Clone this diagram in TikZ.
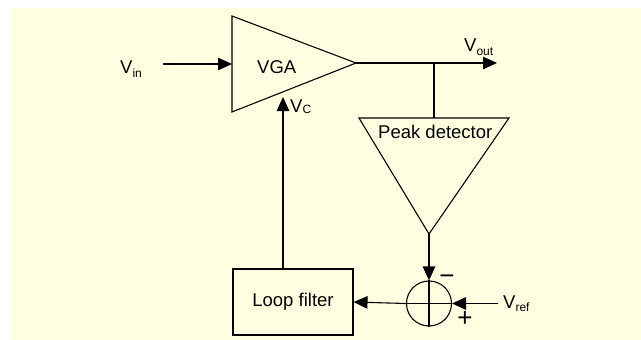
\documentclass[tikz,border=0pt]{standalone}
\usepackage{fontspec}
\setmainfont{Liberation Sans}
\usepackage{tikz}
\usetikzlibrary{arrows.meta,calc}
\definecolor{paper}{HTML}{FFFFE1}
\tikzset{
  ar/.style={-{Triangle[length=14pt,width=12.5pt]},line width=1.1pt},
  ln/.style={line width=1.1pt},
  lbl/.style={anchor=base west,inner sep=0pt,font=\fontsize{18.5}{20}\selectfont},
  sgn/.style={anchor=base,inner sep=0pt,font=\fontsize{26}{28}\selectfont},
  box/.style={draw,line width=1.1pt,minimum width=120pt,minimum height=66pt,inner sep=0pt,
    text height=13pt,text depth=4pt,font=\fontsize{18.5}{20}\selectfont},
  sumc/.style={circle,draw,line width=1.1pt,minimum size=45pt,inner sep=0pt}
}
\newcommand{\lsub}[2][-3.5pt]{\raisebox{#1}{\fontsize{12}{12}\selectfont #2}}

\begin{document}
\begin{tikzpicture}[x=1pt,y=-1pt]
\useasboundingbox (0,0) rectangle (641,340);
\fill[paper] (10,8) rectangle (641,340);
% amplifier and peak detector
\coordinate (vgain) at (232,64);
\coordinate (vgaout) at (356,63);
\coordinate (vgac) at (283,97);
\draw[ln] (232,16) -- (232,112) -- (vgaout) -- cycle;
\node[lbl] (vga) at (257,73) {VGA};
\coordinate (br) at (434,63);
\coordinate (pdin) at (434,118);
\coordinate (pdout) at (429,234);
\draw[ln] (359,118) -- (509,118) -- (pdout) -- cycle;
\node[lbl] (pd) at (378,138) {Peak detector};
% summer and filter
\node[sumc] (sum) at (429,303.5) {};
\draw[ln] (sum.north) -- (sum.south) (sum.west) -- (sum.east);
\node[box] (lf) at (293,302) {Loop filter};
% labels
\coordinate (vinst) at (163,64);
\coordinate (voutend) at (497,63);
\coordinate (vrefst) at (498,303.5);
\node[lbl] (vin) at (120,74) {V\lsub{in}};
\node[lbl] (vc) at (290,112) {V\lsub[-1pt]{C}};
\node[lbl] (vout) at (464,52) {V\lsub{out}};
\node[lbl] (vref) at (503,308) {V\lsub{ref}};
\node[sgn] (minus) at (447,284.5) {−};
\node[sgn] (plus) at (465,326) {+};
% connectors
\draw[ar] (vinst) -- (vgain);
\draw[ar] (vgaout) -- (voutend);
\draw[ln] (br) -- (pdin);
\draw[ar] (pdout) -- (sum.north);
\draw[ar] (vrefst) -- (sum.east);
\draw[ar] (sum.west) -- (lf.east);
\draw[ar] (vgac |- lf.north) -- (vgac);
\end{tikzpicture}
\end{document}
